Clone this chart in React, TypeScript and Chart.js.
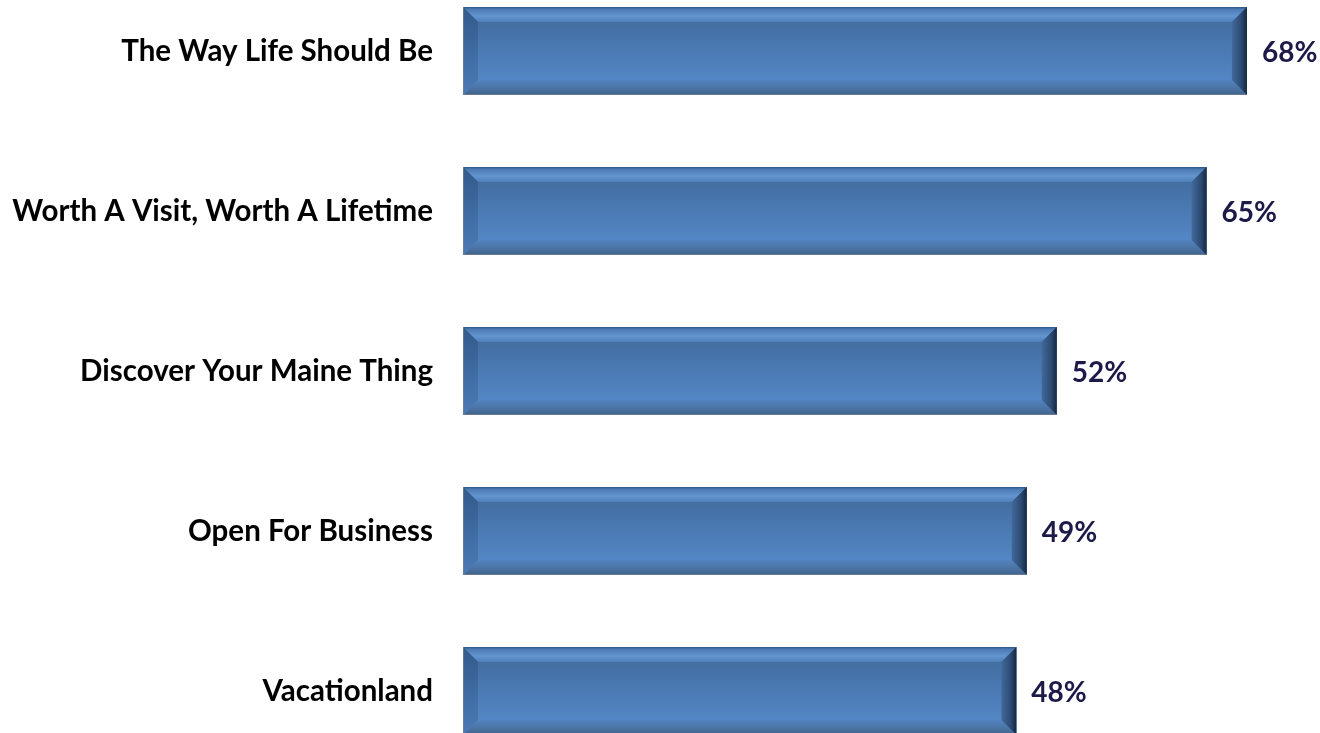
import React, { useEffect, useRef } from "react";
import { Chart, registerables } from "chart.js";
Chart.register(...registerables);

const categories = [
  "The Way Life Should Be",
  "Worth A Visit, Worth A Lifetime",
  "Discover Your Maine Thing",
  "Open For Business",
  "Vacationland",
];
const values = [68, 64.5, 51.5, 48.9, 48];
const valueLabels = ["68%", "65%", "52%", "49%", "48%"];

const FONT_FAMILY = "Lato, 'Open Sans', sans-serif";

const bevelPlugin = {
  id: "bevelBars",
  afterDatasetsDraw(chart: any) {
    const ctx = chart.ctx as CanvasRenderingContext2D;
    const meta = chart.getDatasetMeta(0);
    meta.data.forEach((el: any, i: number) => {
      const p = el.getProps(["x", "y", "base", "height"], true);
      const x0 = Math.min(p.base, p.x);
      const x1 = Math.max(p.base, p.x);
      const y0 = p.y - p.height / 2;
      const y1 = p.y + p.height / 2;
      const b = 15;
      ctx.save();
      // face
      const g = ctx.createLinearGradient(0, y0, 0, y1);
      g.addColorStop(0, "#3f6a9c");
      g.addColorStop(0.2, "#436fa3");
      g.addColorStop(0.85, "#5487c6");
      g.addColorStop(1, "#5689c8");
      ctx.fillStyle = g;
      ctx.fillRect(x0, y0, x1 - x0, y1 - y0);

      // top bevel
      const gt = ctx.createLinearGradient(0, y0, 0, y0 + b);
      gt.addColorStop(0, "#2f5282");
      gt.addColorStop(0.15, "#4a7bb5");
      gt.addColorStop(0.6, "#6595cf");
      gt.addColorStop(1, "#4f7fb8");
      ctx.fillStyle = gt;
      ctx.beginPath();
      ctx.moveTo(x0, y0);
      ctx.lineTo(x1, y0);
      ctx.lineTo(x1 - b, y0 + b);
      ctx.lineTo(x0 + b, y0 + b);
      ctx.closePath();
      ctx.fill();

      // bottom bevel
      const gb = ctx.createLinearGradient(0, y1 - b, 0, y1);
      gb.addColorStop(0, "#5384c0");
      gb.addColorStop(0.5, "#4b75a7");
      gb.addColorStop(1, "#41638c");
      ctx.fillStyle = gb;
      ctx.beginPath();
      ctx.moveTo(x0, y1);
      ctx.lineTo(x1, y1);
      ctx.lineTo(x1 - b, y1 - b);
      ctx.lineTo(x0 + b, y1 - b);
      ctx.closePath();
      ctx.fill();

      // left bevel
      const gl = ctx.createLinearGradient(0, y0, 0, y1);
      gl.addColorStop(0, "#335a8b");
      gl.addColorStop(1, "#4a7bb6");
      ctx.fillStyle = gl;
      ctx.beginPath();
      ctx.moveTo(x0, y0);
      ctx.lineTo(x0 + b, y0 + b);
      ctx.lineTo(x0 + b, y1 - b);
      ctx.lineTo(x0, y1);
      ctx.closePath();
      ctx.fill();

      // right bevel
      const gr = ctx.createLinearGradient(x1 - b, 0, x1, 0);
      gr.addColorStop(0, "#41699b");
      gr.addColorStop(0.6, "#2d4c74");
      gr.addColorStop(1, "#152840");
      ctx.fillStyle = gr;
      ctx.beginPath();
      ctx.moveTo(x1, y0);
      ctx.lineTo(x1 - b, y0 + b);
      ctx.lineTo(x1 - b, y1 - b);
      ctx.lineTo(x1, y1);
      ctx.closePath();
      ctx.fill();

      // subtle grey outline on left and bottom
      ctx.strokeStyle = "rgba(120,130,145,0.7)";
      ctx.lineWidth = 1;
      ctx.beginPath();
      ctx.moveTo(x0 + 0.5, y0);
      ctx.lineTo(x0 + 0.5, y1 - 0.5);
      ctx.lineTo(x1, y1 - 0.5);
      ctx.stroke();

      // value label
      ctx.fillStyle = "#1c1a48";
      ctx.font = `bold 28px ${FONT_FAMILY}`;
      ctx.textAlign = "left";
      ctx.textBaseline = "middle";
      ctx.fillText(valueLabels[i], x1 + 15, p.y + 2);
      ctx.restore();
    });
  },
};

export default function App() {
  const canvasRef = useRef<HTMLCanvasElement | null>(null);

  useEffect(() => {
    if (!canvasRef.current) return;
    const chart = new Chart(canvasRef.current, {
      type: "bar",
      data: {
        labels: categories,
        datasets: [
          {
            data: values,
            backgroundColor: "#4a7ab5",
            borderWidth: 0,
            barPercentage: 0.55,
            categoryPercentage: 1,
          },
        ],
      },
      options: {
        indexAxis: "y",
        animation: false,
        responsive: true,
        maintainAspectRatio: false,
        layout: { padding: { left: 0, right: 50, top: 0, bottom: 0 } },
        plugins: {
          legend: { display: false },
          tooltip: { enabled: false },
        },
        scales: {
          x: {
            display: false,
            min: 0,
            max: 70,
          },
          y: {
            grid: { display: false, drawTicks: false },
            border: { display: false },
            ticks: {
              color: "#000000",
              padding: 30,
              font: { family: FONT_FAMILY, size: 29.5, weight: "bold" },
            },
            afterFit: (scale: any) => {
              scale.width = 463;
              scale.paddingTop = 0;
              scale.paddingBottom = 0;
            },
          },
        },
      },
      plugins: [bevelPlugin],
    });
    return () => chart.destroy();
  }, []);

  return (
    <div
      style={{
        position: "absolute",
        left: 0,
        top: 0,
        width: 1320,
        height: 733,
        overflow: "hidden",
      }}
    >
      <div
        style={{
          position: "relative",
          top: -29,
          width: 1320,
          height: 800,
        }}
      >
        <canvas ref={canvasRef} />
      </div>
    </div>
  );
}
